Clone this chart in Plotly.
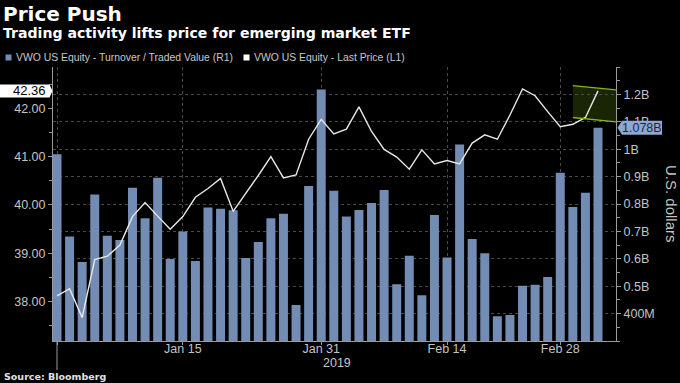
import plotly.graph_objects as go

# ---------------- data ----------------
dates = [
    "2018-12-31",
    "2019-01-02", "2019-01-03", "2019-01-04", "2019-01-07", "2019-01-08", "2019-01-09",
    "2019-01-10", "2019-01-11", "2019-01-14", "2019-01-15", "2019-01-16", "2019-01-17",
    "2019-01-18", "2019-01-22", "2019-01-23", "2019-01-24", "2019-01-25", "2019-01-28",
    "2019-01-29", "2019-01-30", "2019-01-31",
    "2019-02-01", "2019-02-04", "2019-02-05", "2019-02-06", "2019-02-07", "2019-02-08",
    "2019-02-11", "2019-02-12", "2019-02-13", "2019-02-14", "2019-02-15", "2019-02-19",
    "2019-02-20", "2019-02-21", "2019-02-22", "2019-02-25", "2019-02-26", "2019-02-27",
    "2019-02-28",
    "2019-03-01", "2019-03-04", "2019-03-05",
]
turnover_bn = [
    0.982, 0.681, 0.588, 0.835, 0.684, 0.669, 0.859, 0.748, 0.896, 0.599, 0.700,
    0.592, 0.787, 0.783, 0.777, 0.603, 0.661, 0.748, 0.764, 0.431, 0.866, 1.218,
    0.848, 0.754, 0.778, 0.804, 0.851, 0.507, 0.611, 0.467, 0.760, 0.605, 1.017,
    0.672, 0.620, 0.390, 0.395, 0.502, 0.505, 0.534, 0.914, 0.789, 0.841, 1.078,
]
price = [
    38.12, 38.27, 37.67, 38.87, 38.94, 39.17, 39.76, 40.05, 39.77, 39.50, 39.76,
    40.16, 40.34, 40.55, 39.87, 40.23, 40.61, 41.00, 40.56, 40.62, 41.36, 41.77,
    41.47, 41.57, 42.03, 41.52, 41.15, 40.99, 40.74, 41.14, 40.85, 40.92, 40.85,
    41.28, 41.45, 41.36, 41.86, 42.40, 42.26, 41.93, 41.62, 41.67, 41.81, 42.36,
]
tick_dates = ["2018-12-31", "2019-01-15", "2019-01-31", "2019-02-14", "2019-02-28"]
tick_labels = ["", "Jan 15", "Jan 31", "Feb 14", "Feb 28"]
year_label = "2019"
right_tickvals_bn = [0.4, 0.5, 0.6, 0.7, 0.8, 0.9, 1.0, 1.1, 1.2]
right_ticktext = ["400M", "0.5B", "0.6B", "0.7B", "0.8B", "0.9B", "1B", "1.1B", "1.2B"]
left_tickvals = [38, 39, 40, 41, 42]
left_ticktext = ["38.00", "39.00", "40.00", "41.00", "42.00"]
channel_start = "2019-03-01"
channel_top = [42.47, 42.38]
channel_bottom = [41.81, 41.72]
last_price_label = "42.36"
last_turnover_label = "1.078B"
bar_name = "VWO US Equity - Turnover / Traded Value (R1)"
line_name = "VWO US Equity - Last Price (L1)"

turnover = [v * 1e9 for v in turnover_bn]
right_tickvals = [v * 1e9 for v in right_tickvals_bn]

# ---------------- geometry ----------------
W, H = 680, 383
ML, MR, MT, MB = 53, 64, 67, 42
PW, PH = W - ML - MR, H - MT - MB
XR = [-0.318, 44.43]
YL = [37.187, 42.854]
YR = [0.3e9, 1.3e9]

BAR_COLOR = "#728cb4"
LINE_COLOR = "#e8e8e8"
AXIS_COLOR = "#9a9a9a"
GRID_COLOR = "#4a4a4a"
TICK_FONT = dict(family="Liberation Sans", size=12.5, color="#c4c4c4")


def px_x(px):
    return (px - ML) / PW


def px_y(py):
    return (H - MB - py) / PH


def idx_paper(i):
    return (i - XR[0]) / (XR[1] - XR[0])


def yl_paper(v):
    return (v - YL[0]) / (YL[1] - YL[0])


def yr_paper(v):
    return (v - YR[0]) / (YR[1] - YR[0])


fig = go.Figure()
fig.add_trace(go.Bar(
    x=dates, y=turnover, name=bar_name, yaxis="y",
    marker=dict(color=BAR_COLOR, line=dict(width=0)),
    showlegend=False,
))
fig.add_trace(go.Scatter(
    x=dates, y=price, name=line_name, yaxis="y2", mode="lines",
    line=dict(color=LINE_COLOR, width=1.4),
    showlegend=False,
))

shapes = []
annotations = []

# trend channel highlight
cx0 = idx_paper(dates.index(channel_start))
shapes.append(dict(
    type="path", xref="paper", yref="y2", layer="below",
    path=f"M {cx0},{channel_top[0]} L 1,{channel_top[1]} L 1,{channel_bottom[1]} L {cx0},{channel_bottom[0]} Z",
    fillcolor="#1a2505", line=dict(width=0),
))
for pair in (channel_top, channel_bottom):
    shapes.append(dict(type="line", xref="paper", yref="y2", x0=cx0, x1=1,
                       y0=pair[0], y1=pair[1], line=dict(color="#86b81c", width=1.3)))

# year separator below axis
shapes.append(dict(type="line", xref="x", yref="paper", x0=dates[0], x1=dates[0],
                   y0=px_y(370), y1=0, line=dict(color=AXIS_COLOR, width=1)))

# last price tag (left)
yc = yl_paper(price[-1])
hh = 6.5 / PH
xl, xr_, xt = px_x(0), px_x(49.5), px_x(52.5)
shapes.append(dict(type="path", xref="paper", yref="paper",
                   path=f"M {xl},{yc-hh} L {xr_},{yc-hh} L {xt},{yc} L {xr_},{yc+hh} L {xl},{yc+hh} Z",
                   fillcolor="#ffffff", line=dict(width=0)))
annotations.append(dict(xref="paper", yref="paper", x=px_x(48), y=yc, xanchor="right",
                        yanchor="middle", text=last_price_label, showarrow=False,
                        font=dict(family="Liberation Sans", size=13, color="#000000")))

# last turnover tag (right)
yc2 = yr_paper(turnover[-1])
hh2 = 7 / PH
bt, bl, br = px_x(617.5), px_x(622), px_x(662)
shapes.append(dict(type="path", xref="paper", yref="paper",
                   path=f"M {bt},{yc2} L {bl},{yc2-hh2} L {br},{yc2-hh2} L {br},{yc2+hh2} L {bl},{yc2+hh2} Z",
                   fillcolor="#8ea8d0", line=dict(width=0)))
annotations.append(dict(xref="paper", yref="paper", x=px_x(642), y=yc2, xanchor="center",
                        yanchor="middle", text=last_turnover_label, showarrow=False,
                        font=dict(family="Liberation Sans", size=12.5, color="#1a2744")))

# custom legend
ly = px_y(57.5)
sq = 3 / PH
for x0, col, label in ((5.5, BAR_COLOR, bar_name), (243.5, "#ffffff", line_name)):
    shapes.append(dict(type="rect", xref="paper", yref="paper",
                       x0=px_x(x0), x1=px_x(x0 + 6), y0=ly - sq, y1=ly + sq,
                       fillcolor=col, line=dict(width=0)))
    annotations.append(dict(xref="paper", yref="paper", x=px_x(x0 + 8), y=ly,
                            xanchor="left", yanchor="middle", text=label, showarrow=False,
                            font=dict(family="Liberation Sans", size=10.4, color="#c8c8c8")))

# titles
annotations.append(dict(xref="paper", yref="paper", x=px_x(1), y=px_y(14), xanchor="left",
                        yanchor="middle", text="<b>Price Push</b>", showarrow=False,
                        font=dict(family="DejaVu Sans", size=20, color="#ffffff")))
annotations.append(dict(xref="paper", yref="paper", x=px_x(1), y=px_y(33.5), xanchor="left",
                        yanchor="middle",
                        text="<b>Trading activity lifts price for emerging market ETF</b>",
                        showarrow=False,
                        font=dict(family="DejaVu Sans", size=14.1, color="#ffffff")))
annotations.append(dict(xref="paper", yref="paper", x=px_x(2), y=px_y(376), xanchor="left",
                        yanchor="middle", text="<b>Source: Bloomberg</b>", showarrow=False,
                        font=dict(family="DejaVu Sans", size=9.5, color="#e0e0e0")))
annotations.append(dict(xref="paper", yref="paper", x=px_x(336.5), y=px_y(363), xanchor="center",
                        yanchor="middle", text=year_label, showarrow=False, font=TICK_FONT))
annotations.append(dict(xref="paper", yref="paper", x=px_x(672), y=px_y(204), xanchor="center",
                        yanchor="middle", text="U.S. dollars", textangle=90, showarrow=False,
                        font=dict(family="Liberation Sans", size=15, color="#c4c4c4")))

fig.update_layout(
    width=W, height=H,
    margin=dict(l=ML, r=MR, t=MT, b=MB, pad=0),
    paper_bgcolor="#000000", plot_bgcolor="#000000",
    bargap=0.285,
    showlegend=False,
    shapes=shapes, annotations=annotations,
    xaxis=dict(
        type="category", range=XR, tickmode="array", tickvals=tick_dates, ticktext=tick_labels,
        showgrid=True, gridcolor=GRID_COLOR, griddash="dot", gridwidth=1,
        showline=True, linecolor=AXIS_COLOR, linewidth=1,
        ticks="outside", ticklen=3, tickcolor=AXIS_COLOR, tickfont=TICK_FONT,
        ticklabelstandoff=-7,
        zeroline=False, fixedrange=True,
    ),
    yaxis=dict(
        side="right", range=YR, tickmode="array", tickvals=right_tickvals, ticktext=right_ticktext,
        showgrid=True, gridcolor=GRID_COLOR, griddash="dot", gridwidth=1,
        showline=True, linecolor=AXIS_COLOR, linewidth=1,
        ticks="outside", ticklen=4, tickcolor=AXIS_COLOR, tickfont=TICK_FONT,
        minor=dict(tickmode="linear", tick0=0, dtick=0.05e9, ticks="outside", ticklen=3,
                   tickcolor=AXIS_COLOR, showgrid=False),
        zeroline=False,
    ),
    yaxis2=dict(
        overlaying="y", side="left", range=YL, tickmode="array", tickvals=left_tickvals,
        ticktext=left_ticktext, showgrid=False,
        showline=True, linecolor=AXIS_COLOR, linewidth=1,
        ticks="outside", ticklen=4, tickcolor=AXIS_COLOR, tickfont=TICK_FONT,
        minor=dict(tickmode="linear", tick0=0, dtick=0.5, ticks="outside", ticklen=3,
                   tickcolor=AXIS_COLOR, showgrid=False),
        zeroline=False,
    ),
)

fig.write_html(
    "out.html",
    config={"displayModeBar": False},
    post_script="document.body.style.margin='0';document.body.style.overflow='hidden';",
)
